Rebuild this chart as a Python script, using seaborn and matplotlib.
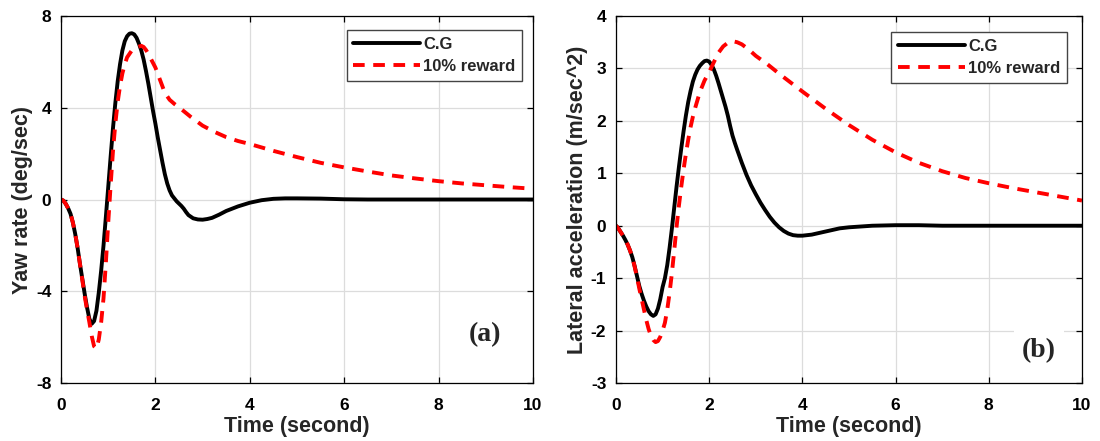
import numpy as np
import pandas as pd
import matplotlib
matplotlib.use("Agg")
import matplotlib.pyplot as plt
import seaborn as sns

# ---- yaw rate (deg/sec) ----
yaw_t_cg = [0, 0.05, 0.1, 0.15, 0.2, 0.25, 0.3, 0.35, 0.4, 0.45, 0.5, 0.55, 0.6, 0.65,
            0.7, 0.75, 0.8, 0.85, 0.9, 0.95, 1.0, 1.05, 1.1, 1.15, 1.2, 1.25, 1.3, 1.35,
            1.4, 1.45, 1.5, 1.55, 1.6, 1.65, 1.7, 1.75, 1.8, 1.85, 1.9, 1.95, 2.0, 2.05,
            2.1, 2.15, 2.2, 2.25, 2.3, 2.35, 2.4, 2.45, 2.5, 2.55, 2.6, 2.65, 2.7, 2.8,
            2.9, 3.0, 3.1, 3.2, 3.35, 3.5, 3.75, 4.0, 4.25, 4.5, 4.75, 5.0, 5.5, 6.0,
            6.5, 7.0, 8.0, 9.0, 10.0]
yaw_cg = [0, -0.05, -0.19, -0.38, -0.62, -1.0, -1.5, -2.1, -2.8, -3.45, -4.1, -4.7, -5.2, -5.42,
          -5.3, -4.85, -4.05, -3.1, -2.0, -0.75, 0.55, 1.85, 3.1, 4.2, 5.15, 5.9, 6.5, 6.9,
          7.12, 7.23, 7.25, 7.2, 7.05, 6.8, 6.5, 6.1, 5.6, 5.05, 4.45, 3.85, 3.3, 2.7,
          2.15, 1.6, 1.1, 0.7, 0.4, 0.18, 0.05, -0.08, -0.18, -0.28, -0.4, -0.55, -0.68, -0.82,
          -0.87, -0.88, -0.85, -0.8, -0.66, -0.5, -0.3, -0.14, -0.03, 0.03, 0.05, 0.05, 0.04, 0.01,
          0.0, 0.0, 0.0, 0.0, 0.0]

yaw_t_rw = [0, 0.05, 0.1, 0.15, 0.2, 0.25, 0.3, 0.35, 0.4, 0.45, 0.5, 0.55, 0.6, 0.65,
            0.7, 0.75, 0.8, 0.85, 0.9, 0.95, 1.0, 1.05, 1.1, 1.15, 1.2, 1.25, 1.3, 1.35,
            1.4, 1.5, 1.6, 1.7, 1.75, 1.8, 1.85, 1.9, 2.0, 2.1, 2.2, 2.3, 2.4, 2.5,
            2.75, 3.0, 3.25, 3.5, 3.75, 4.0, 4.5, 5.0, 5.5, 6.0, 6.5, 7.0, 7.5, 8.0,
            8.5, 9.0, 9.5, 10.0]
yaw_rw = [0, -0.05, -0.19, -0.38, -0.62, -1.0, -1.5, -2.1, -2.8, -3.5, -4.2, -4.8, -5.35, -5.95,
          -6.4, -6.5, -6.1, -5.35, -4.3, -2.75, -1.0, 0.6, 2.1, 3.3, 4.25, 4.95, 5.5, 5.9,
          6.2, 6.5, 6.64, 6.7, 6.65, 6.52, 6.35, 6.15, 5.75, 5.2, 4.65, 4.35, 4.17, 4.02,
          3.6, 3.22, 2.95, 2.72, 2.55, 2.42, 2.12, 1.85, 1.6, 1.4, 1.22, 1.05, 0.92, 0.8,
          0.7, 0.62, 0.54, 0.47]

# ---- lateral acceleration (m/sec^2) ----
lat_t_cg = [0, 0.05, 0.1, 0.15, 0.2, 0.25, 0.3, 0.35, 0.4, 0.45, 0.5, 0.55, 0.6, 0.65,
            0.7, 0.75, 0.8, 0.85, 0.9, 0.95, 1.0, 1.05, 1.1, 1.15, 1.2, 1.25, 1.3, 1.35,
            1.4, 1.45, 1.5, 1.55, 1.6, 1.65, 1.7, 1.75, 1.8, 1.85, 1.9, 1.95, 2.0, 2.05,
            2.1, 2.15, 2.2, 2.25, 2.3, 2.35, 2.4, 2.45, 2.5, 2.55, 2.6, 2.7, 2.8, 2.9,
            3.0, 3.1, 3.2, 3.3, 3.4, 3.5, 3.6, 3.7, 3.8, 3.9, 4.0, 4.2, 4.4, 4.6,
            4.8, 5.0, 5.5, 6.0, 6.5, 7.0, 8.0, 9.0, 10.0]
lat_cg = [0, -0.05, -0.12, -0.19, -0.27, -0.36, -0.47, -0.6, -0.77, -0.96, -1.15, -1.3, -1.43, -1.54,
          -1.63, -1.69, -1.72, -1.69, -1.58, -1.4, -1.17, -1.0, -0.75, -0.42, -0.05, 0.35, 0.75, 1.12,
          1.47, 1.8, 2.1, 2.36, 2.57, 2.75, 2.88, 2.98, 3.05, 3.1, 3.14, 3.15, 3.13, 3.07,
          2.98, 2.86, 2.72, 2.57, 2.42, 2.27, 2.1, 1.9, 1.72, 1.58, 1.45, 1.2, 0.97, 0.77,
          0.6, 0.44, 0.3, 0.17, 0.06, -0.03, -0.1, -0.15, -0.18, -0.19, -0.19, -0.17, -0.13, -0.09,
          -0.05, -0.03, 0.0, 0.01, 0.01, 0.0, 0.0, 0.0, 0.0]

lat_t_rw = [0, 0.05, 0.1, 0.15, 0.2, 0.25, 0.3, 0.35, 0.4, 0.45, 0.5, 0.55, 0.6, 0.65,
            0.7, 0.75, 0.8, 0.85, 0.9, 0.95, 1.0, 1.05, 1.1, 1.15, 1.2, 1.25, 1.3, 1.35,
            1.4, 1.45, 1.5, 1.55, 1.6, 1.65, 1.7, 1.8, 1.9, 2.0, 2.1, 2.2, 2.3, 2.4,
            2.5, 2.6, 2.7, 2.85, 3.0, 3.25, 3.5, 3.75, 4.0, 4.5, 5.0, 5.5, 6.0, 6.5,
            7.0, 7.5, 8.0, 8.5, 9.0, 9.5, 10.0]
lat_rw = [0, -0.05, -0.12, -0.19, -0.27, -0.36, -0.47, -0.6, -0.78, -0.98, -1.2, -1.4, -1.6, -1.8,
          -1.97, -2.1, -2.18, -2.22, -2.2, -2.12, -2.0, -1.85, -1.6, -1.28, -0.9, -0.47, -0.02, 0.38,
          0.74, 1.07, 1.37, 1.64, 1.88, 2.08, 2.25, 2.55, 2.77, 2.93, 3.12, 3.3, 3.42, 3.49,
          3.52, 3.5, 3.46, 3.36, 3.24, 3.08, 2.9, 2.73, 2.56, 2.23, 1.92, 1.64, 1.4, 1.2,
          1.04, 0.91, 0.81, 0.72, 0.64, 0.56, 0.48]

series_labels = ["C.G", "10% reward"]
x_ticks = [0, 2, 4, 6, 8, 10]
yaw_ticks = [-8, -4, 0, 4, 8]
lat_ticks = [-3, -2, -1, 0, 1, 2, 3, 4]

sns.set_theme(style="white")
plt.rcParams['font.family'] = ['Liberation Sans', 'DejaVu Sans']
plt.rcParams['font.weight'] = 'bold'
plt.rcParams['axes.labelweight'] = 'bold'
plt.rcParams['axes.unicode_minus'] = False

fig = plt.figure(figsize=(11, 4.41), dpi=100)
ax1 = fig.add_axes([0.0555, 0.1315, 0.429, 0.8322])
ax2 = fig.add_axes([0.560, 0.1315, 0.4236, 0.8322])

LW = 2.8
DASH = (0, (3.0, 2.2))


def draw_panel(ax, t_cg, v_cg, t_rw, v_rw, ylim, yticks, ylabel, tag, tag_xy,
               tag_box, leg_anchor):
    sns.lineplot(x=t_cg, y=v_cg, ax=ax, color="black", lw=LW,
                 label=series_labels[0], sort=False, estimator=None)
    sns.lineplot(x=t_rw, y=v_rw, ax=ax, color="red", lw=LW, linestyle=DASH,
                 label=series_labels[1], sort=False, estimator=None)
    for ln in ax.lines:
        ln.set_solid_joinstyle("round")
        ln.set_dash_joinstyle("round")
    ax.set_xlim(0, 10)
    ax.set_ylim(*ylim)
    ax.set_xticks(x_ticks)
    ax.set_yticks(yticks)
    ax.grid(True, color="#dcdcdc", lw=0.9)
    ax.set_axisbelow(True)
    for s in ax.spines.values():
        s.set_color("black")
        s.set_linewidth(0.9)
        s.set_visible(True)
    ax.tick_params(direction="in", length=4.5, width=0.9, colors="black",
                   top=True, right=True, bottom=True, left=True,
                   labelsize=12.5, pad=7)
    ax.tick_params(axis="x", pad=11)
    for lab in ax.get_xticklabels() + ax.get_yticklabels():
        lab.set_fontweight("bold")
    ax.set_xlabel("Time (second)", fontsize=15.5, fontweight="bold", labelpad=2)
    ax.set_ylabel(ylabel, fontsize=15.5, fontweight="bold", labelpad=2)
    leg = ax.legend(loc="upper right", bbox_to_anchor=leg_anchor, borderaxespad=0,
                    prop={"weight": "bold", "size": 12}, frameon=True,
                    fancybox=False, framealpha=1, edgecolor="#444444",
                    handlelength=4.0, handletextpad=0.2, borderpad=0.4,
                    labelspacing=0.45)
    leg.get_frame().set_linewidth(1.0)
    kw = dict(fontfamily="Liberation Serif", fontweight="bold", fontsize=20,
              ha="center", va="center", zorder=5)
    if tag_box:
        kw["bbox"] = dict(facecolor="white", edgecolor="none", pad=6)
    ax.text(tag_xy[0], tag_xy[1], tag, **kw)


draw_panel(ax1, yaw_t_cg, yaw_cg, yaw_t_rw, yaw_rw, (-8, 8), yaw_ticks,
           "Yaw rate (deg/sec)", "(a)", (8.98, -5.9), False, (0.977, 0.962))
draw_panel(ax2, lat_t_cg, lat_cg, lat_t_rw, lat_rw, (-3, 4), lat_ticks,
           "Lateral acceleration (m/sec^2)", "(b)", (9.08, -2.39), True, (0.968, 0.956))

fig.savefig("out.png", dpi=100)
